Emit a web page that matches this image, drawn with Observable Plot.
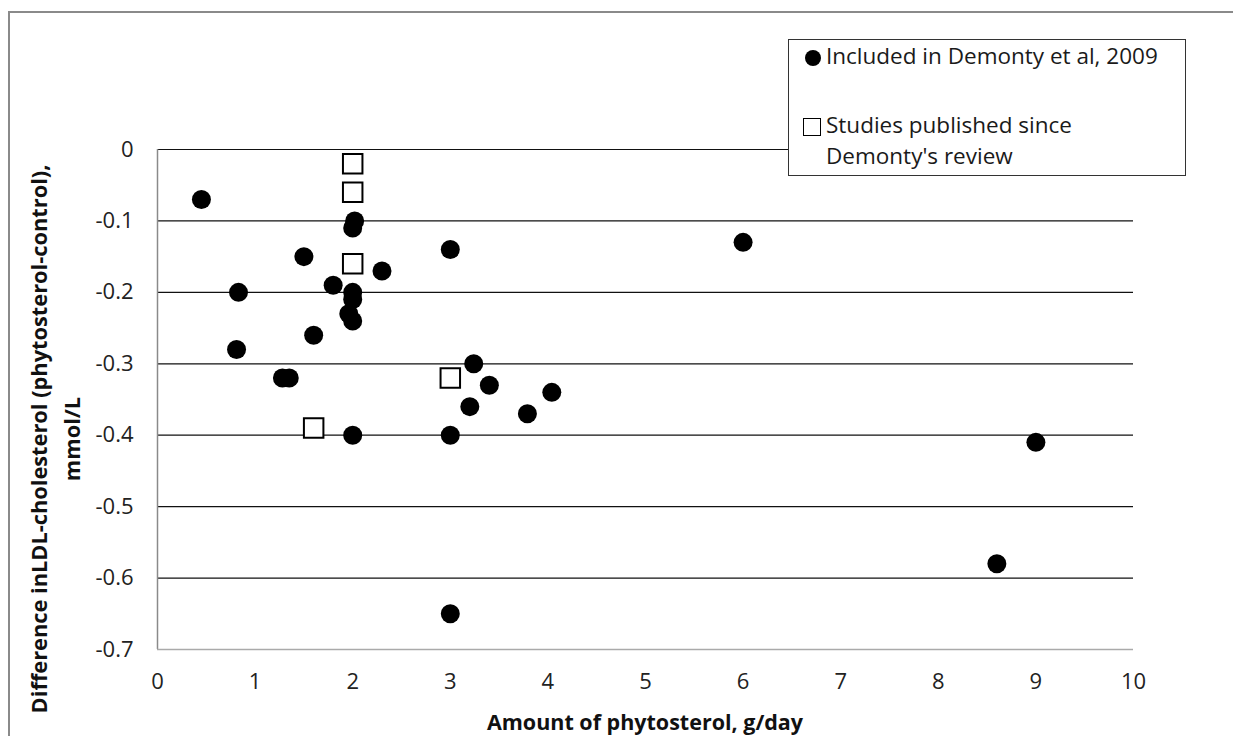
<!DOCTYPE html>
<html>
<head>
<meta charset="utf-8">
<script src="https://cdn.jsdelivr.net/npm/d3@7"></script>
<script src="https://cdn.jsdelivr.net/npm/@observablehq/plot@0.6"></script>
<style>
  html, body { margin: 0; padding: 0; background: #fff; }
  #wrap { position: relative; width: 1233px; height: 736px; overflow: hidden; font-family: "Open Sans", sans-serif; }
  #frame { position: absolute; left: 8px; top: 11px; width: 1300px; height: 800px; border-left: 2px solid #8a8a8a; border-top: 2px solid #8a8a8a; box-sizing: border-box; }
  #legend { position: absolute; left: 788px; top: 39px; width: 398px; height: 137px; border: 1.5px solid #333; box-sizing: border-box; background: #fff; font-size: 22.5px; color: #1a1a1a; }
  .li { position: absolute; left: 37px; white-space: nowrap; line-height: 1; }
  .sym { position: absolute; }
  svg text { font-family: "Open Sans", sans-serif; }
</style>
</head>
<body>
<div id="wrap">
  <div id="chart" style="position:absolute;left:0;top:0;"></div>
  <div id="frame"></div>
  <div id="legend"></div>
</div>
<script>
// Data: amount of phytosterol (g/day) vs difference in LDL-cholesterol (mmol/L)
const includedX = [0.45, 0.83, 0.81, 1.28, 1.35, 1.50, 1.60, 1.80, 1.96, 2.02, 2.00, 2.00, 2.00, 2.00, 2.00, 2.30, 3.00, 3.00, 3.00, 3.24, 3.40, 3.20, 3.79, 4.04, 6.00, 8.60, 9.00];
const includedY = [-0.07, -0.20, -0.28, -0.32, -0.32, -0.15, -0.26, -0.19, -0.23, -0.10, -0.11, -0.20, -0.21, -0.24, -0.40, -0.17, -0.14, -0.40, -0.65, -0.30, -0.33, -0.36, -0.37, -0.34, -0.13, -0.58, -0.41];
const newX = [2.00, 2.00, 2.00, 3.00, 1.60];
const newY = [-0.02, -0.06, -0.16, -0.32, -0.39];

const xTicks = [0, 1, 2, 3, 4, 5, 6, 7, 8, 9, 10];
const yTicks = [0, -0.1, -0.2, -0.3, -0.4, -0.5, -0.6, -0.7];
const gridY = [0, -0.1, -0.2, -0.3, -0.4, -0.5, -0.6];

const seriesNames = ["Included in Demonty et al, 2009", "Studies published since\nDemonty's review"];
const xTitle = "Amount of phytosterol, g/day";
const yTitleLines = ["Difference inLDL-cholesterol (phytosterol-control),", "mmol/L"];

const included = includedX.map((x, i) => ({x, y: includedY[i]}));
const newer = newX.map((x, i) => ({x, y: newY[i]}));

const fmt = d => d === 0 ? "0" : d.toFixed(1);

const plot = Plot.plot({
  width: 1233,
  height: 736,
  marginLeft: 157,
  marginRight: 100,
  marginTop: 149,
  marginBottom: 87,
  x: {domain: [0, 10]},
  y: {domain: [-0.7, 0]},
  style: {fontFamily: "'Open Sans', sans-serif", background: "white"},
  marks: [
    Plot.ruleY(gridY, {stroke: "#111", strokeWidth: 1.2}),
    Plot.ruleX([0], {stroke: "#8a8a8a", strokeWidth: 1.5}),
    Plot.ruleY([-0.7], {stroke: "#aaa", strokeWidth: 1.5}),
    Plot.axisX({ticks: xTicks, tickSize: 0, tickPadding: 24, tickFormat: d => String(d), fontSize: 22, fill: "#222", label: null}),
    Plot.axisY({ticks: yTicks, tickSize: 0, tickPadding: 24, tickFormat: fmt, fontSize: 22, fill: "#222", label: null}),
    Plot.dot(included, {x: "x", y: "y", r: 9.5, fill: "black", stroke: "none"}),
    Plot.dot(newer, {x: "x", y: "y", symbol: "square", r: 11, fill: "white", stroke: "black", strokeWidth: 2})
  ]
});
document.getElementById("chart").appendChild(plot);

// Axis titles
const svg = d3.select(plot);
svg.append("text")
  .attr("x", 645).attr("y", 730)
  .attr("text-anchor", "middle")
  .attr("font-size", 21.5).attr("font-weight", "bold").attr("fill", "#111")
  .text(xTitle);
const yt = svg.append("text")
  .attr("transform", "translate(47,439) rotate(-90)")
  .attr("text-anchor", "middle")
  .attr("font-size", 21.8).attr("font-weight", "bold").attr("fill", "#111");
yt.append("tspan").attr("x", 0).attr("dy", 0).text(yTitleLines[0]);
yt.append("tspan").attr("x", 0).attr("dy", 33).text(yTitleLines[1]);

// Legend
const lg = document.getElementById("legend");
const lines = seriesNames[1].split("\n");
lg.innerHTML = `
  <div class="sym" style="left:16px;top:10px;width:16px;height:16px;border-radius:50%;background:#000;"></div>
  <div class="li" style="top:5px;">${seriesNames[0]}</div>
  <div class="sym" style="left:14px;top:78px;width:18px;height:18px;border:1.5px solid #000;box-sizing:border-box;background:#fff;"></div>
  <div class="li" style="top:74px;">${lines[0]}</div>
  <div class="li" style="top:105px;">${lines[1]}</div>
`;
</script>
</body>
</html>
